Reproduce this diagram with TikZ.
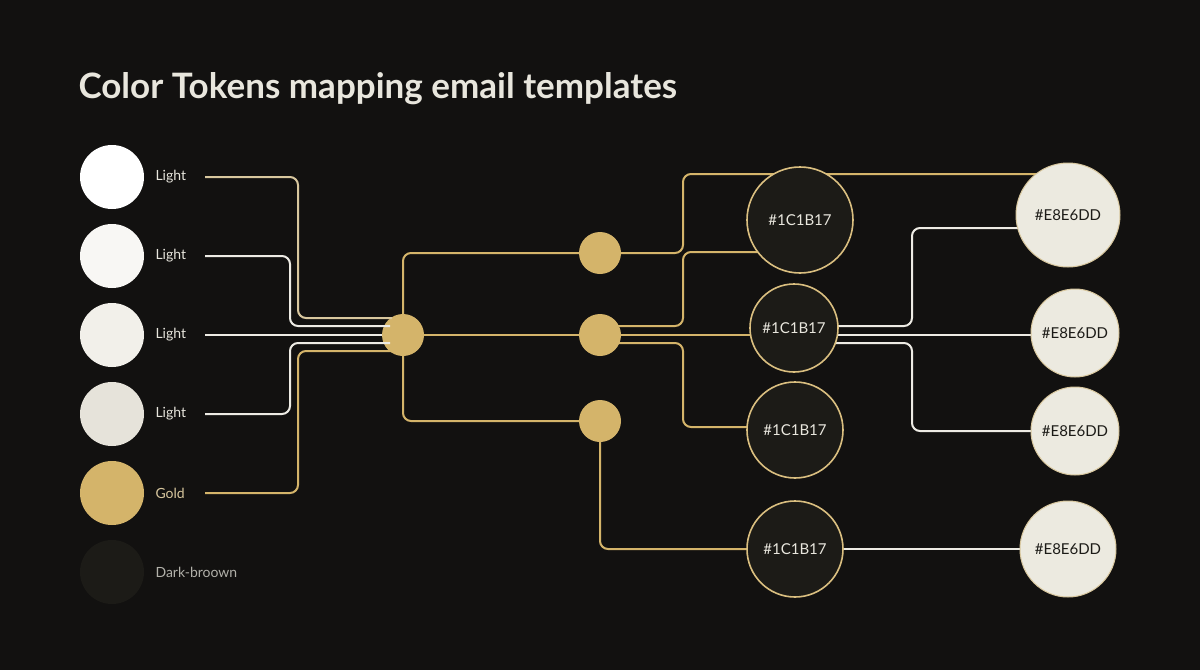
\documentclass[tikz,border=0pt]{standalone}
\usepackage{fontspec}
\setmainfont{Lato}
\definecolor{bg}{HTML}{121110}
\definecolor{gold}{HTML}{D4B46A}
\definecolor{tan}{HTML}{D8C79E}
\definecolor{wline}{HTML}{EDEBE4}
\definecolor{darkc}{HTML}{1C1B17}
\definecolor{lightc}{HTML}{ECEAE0}
\definecolor{txt}{HTML}{E8E6DD}
\definecolor{swb}{HTML}{F8F7F4}
\definecolor{swc}{HTML}{F2F0EA}
\definecolor{swd}{HTML}{E6E3DA}
\definecolor{swf}{HTML}{1C1B17}
\begin{document}
\begin{tikzpicture}[x=1pt,y=-1pt,
  conn/.style={line width=2pt,rounded corners=8pt},
  sw/.style={circle,inner sep=0pt,minimum size=64pt},
  lab/.style={anchor=west,text=txt,font=\fontsize{14}{16}\selectfont},
  hub/.style={circle,fill=gold,inner sep=0pt,minimum size=#1},
  dk/.style={circle,fill=darkc,draw=gold!85!white,line width=1.6pt,inner sep=0pt,minimum size=#1,text=txt,font=\fontsize{15}{17}\selectfont},
  lt/.style={circle,fill=lightc,draw=tan,line width=1pt,inner sep=0pt,minimum size=#1,text=darkc,font=\fontsize{15}{17}\selectfont}]
\fill[bg] (0,0) rectangle (1200,670);
\useasboundingbox (0,0) rectangle (1200,670);
\node[anchor=base west,text=txt,font=\bfseries\fontsize{35}{40}\selectfont] (title) at (75,98) {Color Tokens mapping email templates};
% swatches
\node[sw,fill=white] (s1) at (112,177) {};
\node[sw,fill=swb] (s2) at (112,256) {};
\node[sw,fill=swc] (s3) at (112,335) {};
\node[sw,fill=swd] (s4) at (112,414) {};
\node[sw,fill=gold] (s5) at (112,493) {};
\node[sw,fill=swf] (s6) at (112,572) {};
\node[lab] (l1) at (152,177) {Light};
\node[lab] (l2) at (152,256) {Light};
\node[lab] (l3) at (152,335) {Light};
\node[lab] (l4) at (152,414) {Light};
\node[lab,text=tan] (l5) at (152,493) {Gold};
\node[lab,text=txt!75!bg] (l6) at (152,572) {Dark-broown};
% hub and small gold nodes
\node[hub=42pt] (h) at (403,335) {};
\node[hub=42pt] (g1) at (600,253) {};
\node[hub=42pt] (g2) at (600,335) {};
\node[hub=42pt] (g3) at (600,421) {};
% links into hub
\draw[conn,tan] (205,177) -- (298,177) -- (298,318) -- (392,318);
\draw[conn,wline] (205,256) -- (290,256) -- (290,326) -- (390,326);
\draw[conn,wline] (205,335) -- (h);
\draw[conn,wline] (205,414) -- (290,414) -- (290,343) -- (390,343);
\draw[conn,gold] (205,493) -- (298,493) -- (298,351) -- (392,351);
% hub to small nodes
\draw[conn,gold] (h) -- (403,253) -- (g1);
\draw[conn,gold] (h) -- (g2);
\draw[conn,gold] (h) -- (403,421) -- (g3);
% behind-lines
\draw[conn,gold] (g1) -- (683,253) -- (683,174) -- (1040,174);
\draw[conn,gold] (615,326) -- (683,326) -- (683,252) -- (770,252);
\draw[conn,gold] (g2) -- (760,335);
\draw[conn,gold] (615,343) -- (683,343) -- (683,427) -- (760,427);
\draw[conn,gold] (g3) -- (600,549) -- (760,549);
\draw[conn,wline] (820,326) -- (912,326) -- (912,228) -- (1030,228);
\draw[conn,wline] (820,335) -- (1040,335);
\draw[conn,wline] (820,343) -- (912,343) -- (912,431) -- (1040,431);
\draw[conn,wline] (820,549) -- (1030,549);
% nodes on top
\node[dk=106pt] (d1) at (800,220) {\#1C1B17};
\node[dk=88pt] (d2) at (794,328) {\#1C1B17};
\node[dk=96pt] (d3) at (795,430) {\#1C1B17};
\node[dk=96pt] (d4) at (795,549) {\#1C1B17};
\node[lt=104pt] (e1) at (1068,215) {\#E8E6DD};
\node[lt=88pt] (e2) at (1075,333) {\#E8E6DD};
\node[lt=88pt] (e3) at (1075,431) {\#E8E6DD};
\node[lt=96pt] (e4) at (1068,549) {\#E8E6DD};
\end{tikzpicture}
\end{document}
